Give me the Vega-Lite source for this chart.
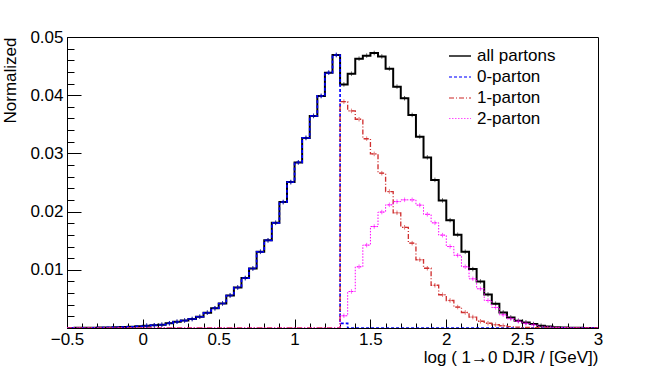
{
  "$schema": "https://vega.github.io/schema/vega-lite/v6.json",
  "width": 531,
  "height": 291,
  "autosize": {"type": "none"},
  "padding": {"left": 67, "top": 37, "right": 66, "bottom": 45},
  "background": "white",
  "config": {
    "view": {"stroke": "black", "strokeWidth": 1},
    "font": "Liberation Sans",
    "axis": {"grid": false, "domainColor": "black", "tickColor": "black", "labelColor": "black", "titleColor": "black", "labelFontSize": 17, "titleFontSize": 17, "titleFontWeight": "normal", "labelFlush": false, "labelOverlap": false, "labelBound": false, "domainWidth": 1, "tickWidth": 1}
  },
  "data": {"values": [
    {"x": -0.5, "all partons": 0.00002, "0-parton": 0.00002, "1-parton": 0, "2-parton": 0},
    {"x": -0.45, "all partons": 0.00003, "0-parton": 0.00003, "1-parton": 0, "2-parton": 0},
    {"x": -0.4, "all partons": 0.00004, "0-parton": 0.00004, "1-parton": 0, "2-parton": 0},
    {"x": -0.35, "all partons": 0.00005, "0-parton": 0.00005, "1-parton": 0, "2-parton": 0},
    {"x": -0.3, "all partons": 0.00007, "0-parton": 0.00007, "1-parton": 0, "2-parton": 0},
    {"x": -0.25, "all partons": 0.0001, "0-parton": 0.0001, "1-parton": 0, "2-parton": 0},
    {"x": -0.2, "all partons": 0.00013, "0-parton": 0.00013, "1-parton": 0, "2-parton": 0},
    {"x": -0.15, "all partons": 0.00017, "0-parton": 0.00017, "1-parton": 0, "2-parton": 0},
    {"x": -0.1, "all partons": 0.00022, "0-parton": 0.00022, "1-parton": 0, "2-parton": 0},
    {"x": -0.05, "all partons": 0.0003, "0-parton": 0.0003, "1-parton": 0, "2-parton": 0},
    {"x": 0.0, "all partons": 0.00039, "0-parton": 0.00039, "1-parton": 0, "2-parton": 0},
    {"x": 0.05, "all partons": 0.00047, "0-parton": 0.00047, "1-parton": 0, "2-parton": 0},
    {"x": 0.1, "all partons": 0.00056, "0-parton": 0.00056, "1-parton": 0, "2-parton": 0},
    {"x": 0.15, "all partons": 0.00082, "0-parton": 0.00082, "1-parton": 0, "2-parton": 0},
    {"x": 0.2, "all partons": 0.00107, "0-parton": 0.00107, "1-parton": 0, "2-parton": 0},
    {"x": 0.25, "all partons": 0.00128, "0-parton": 0.00128, "1-parton": 0, "2-parton": 0},
    {"x": 0.3, "all partons": 0.00154, "0-parton": 0.00154, "1-parton": 0, "2-parton": 0},
    {"x": 0.35, "all partons": 0.00193, "0-parton": 0.00193, "1-parton": 0, "2-parton": 0},
    {"x": 0.4, "all partons": 0.00262, "0-parton": 0.00262, "1-parton": 0, "2-parton": 0},
    {"x": 0.45, "all partons": 0.00339, "0-parton": 0.00339, "1-parton": 0, "2-parton": 0},
    {"x": 0.5, "all partons": 0.00421, "0-parton": 0.00421, "1-parton": 0, "2-parton": 0},
    {"x": 0.55, "all partons": 0.00559, "0-parton": 0.00559, "1-parton": 0, "2-parton": 0},
    {"x": 0.6, "all partons": 0.00696, "0-parton": 0.00696, "1-parton": 0, "2-parton": 0},
    {"x": 0.65, "all partons": 0.00858, "0-parton": 0.00858, "1-parton": 0, "2-parton": 0},
    {"x": 0.7, "all partons": 0.01022, "0-parton": 0.01022, "1-parton": 0, "2-parton": 0},
    {"x": 0.75, "all partons": 0.01309, "0-parton": 0.01309, "1-parton": 0, "2-parton": 0},
    {"x": 0.8, "all partons": 0.01506, "0-parton": 0.01506, "1-parton": 0, "2-parton": 0},
    {"x": 0.85, "all partons": 0.01807, "0-parton": 0.01807, "1-parton": 0, "2-parton": 0},
    {"x": 0.9, "all partons": 0.02164, "0-parton": 0.02164, "1-parton": 0, "2-parton": 0},
    {"x": 0.95, "all partons": 0.02507, "0-parton": 0.02507, "1-parton": 0, "2-parton": 0},
    {"x": 1.0, "all partons": 0.02845, "0-parton": 0.02845, "1-parton": 0, "2-parton": 0},
    {"x": 1.05, "all partons": 0.03266, "0-parton": 0.03266, "1-parton": 0, "2-parton": 0},
    {"x": 1.1, "all partons": 0.03644, "0-parton": 0.03644, "1-parton": 0, "2-parton": 0},
    {"x": 1.15, "all partons": 0.03987, "0-parton": 0.03987, "1-parton": 0, "2-parton": 0},
    {"x": 1.2, "all partons": 0.04387, "0-parton": 0.04387, "1-parton": 0, "2-parton": 0},
    {"x": 1.25, "all partons": 0.04691, "0-parton": 0.04691, "1-parton": 0, "2-parton": 0},
    {"x": 1.3, "all partons": 0.04185, "0-parton": 0.0008, "1-parton": 0.03889, "2-parton": 0.0021},
    {"x": 1.35, "all partons": 0.04368, "0-parton": 0, "1-parton": 0.0373, "2-parton": 0.00627},
    {"x": 1.4, "all partons": 0.04627, "0-parton": 0, "1-parton": 0.03587, "2-parton": 0.01052},
    {"x": 1.45, "all partons": 0.04679, "0-parton": 0, "1-parton": 0.03252, "2-parton": 0.01424},
    {"x": 1.5, "all partons": 0.04725, "0-parton": 0, "1-parton": 0.02991, "2-parton": 0.01743},
    {"x": 1.55, "all partons": 0.04665, "0-parton": 0, "1-parton": 0.0266, "2-parton": 0.01992},
    {"x": 1.6, "all partons": 0.04456, "0-parton": 0, "1-parton": 0.02344, "2-parton": 0.02116},
    {"x": 1.65, "all partons": 0.04147, "0-parton": 0, "1-parton": 0.01979, "2-parton": 0.02172},
    {"x": 1.7, "all partons": 0.03948, "0-parton": 0, "1-parton": 0.0173, "2-parton": 0.02202},
    {"x": 1.75, "all partons": 0.03661, "0-parton": 0, "1-parton": 0.01458, "2-parton": 0.02202},
    {"x": 1.8, "all partons": 0.03288, "0-parton": 0, "1-parton": 0.01172, "2-parton": 0.02111},
    {"x": 1.85, "all partons": 0.02931, "0-parton": 0, "1-parton": 0.01026, "2-parton": 0.01953},
    {"x": 1.9, "all partons": 0.02545, "0-parton": 0, "1-parton": 0.00734, "2-parton": 0.01807},
    {"x": 1.95, "all partons": 0.0219, "0-parton": 0, "1-parton": 0.00571, "2-parton": 0.01596},
    {"x": 2.0, "all partons": 0.01853, "0-parton": 0, "1-parton": 0.00473, "2-parton": 0.014},
    {"x": 2.05, "all partons": 0.01601, "0-parton": 0, "1-parton": 0.0036, "2-parton": 0.01249},
    {"x": 2.1, "all partons": 0.01309, "0-parton": 0, "1-parton": 0.00267, "2-parton": 0.01052},
    {"x": 2.15, "all partons": 0.01012, "0-parton": 0, "1-parton": 0.00188, "2-parton": 0.00845},
    {"x": 2.2, "all partons": 0.00799, "0-parton": 0, "1-parton": 0.00116, "2-parton": 0.00674},
    {"x": 2.25, "all partons": 0.00576, "0-parton": 0, "1-parton": 0.00082, "2-parton": 0.00473},
    {"x": 2.3, "all partons": 0.00416, "0-parton": 0, "1-parton": 0.00056, "2-parton": 0.00353},
    {"x": 2.35, "all partons": 0.00267, "0-parton": 0, "1-parton": 0.00039, "2-parton": 0.00227},
    {"x": 2.4, "all partons": 0.00181, "0-parton": 0, "1-parton": 0.00025, "2-parton": 0.00159},
    {"x": 2.45, "all partons": 0.00124, "0-parton": 0, "1-parton": 0.00015, "2-parton": 0.00116},
    {"x": 2.5, "all partons": 0.00095, "0-parton": 0, "1-parton": 0.0001, "2-parton": 0.0008},
    {"x": 2.55, "all partons": 0.00068, "0-parton": 0, "1-parton": 0.00006, "2-parton": 0.00055},
    {"x": 2.6, "all partons": 0.00039, "0-parton": 0, "1-parton": 0.00004, "2-parton": 0.0003},
    {"x": 2.65, "all partons": 0.00027, "0-parton": 0, "1-parton": 0.00002, "2-parton": 0.0002},
    {"x": 2.7, "all partons": 0.00015, "0-parton": 0, "1-parton": 0.00001, "2-parton": 0.00012},
    {"x": 2.75, "all partons": 0.0001, "0-parton": 0, "1-parton": 0, "2-parton": 0.00008},
    {"x": 2.8, "all partons": 0.00006, "0-parton": 0, "1-parton": 0, "2-parton": 0.00004},
    {"x": 2.85, "all partons": 0.00004, "0-parton": 0, "1-parton": 0, "2-parton": 0.00002},
    {"x": 2.9, "all partons": 0.00002, "0-parton": 0, "1-parton": 0, "2-parton": 0.00001},
    {"x": 2.95, "all partons": 0.00001, "0-parton": 0, "1-parton": 0, "2-parton": 0},
    {"x": 3.0, "all partons": 0.00001, "0-parton": 0, "1-parton": 0, "2-parton": 0}
  ]},
  "transform": [{"fold": ["all partons", "0-parton", "1-parton", "2-parton"], "as": ["series", "value"]}],
  "encoding": {
    "x": {
      "field": "x", "type": "quantitative",
      "scale": {"domain": [-0.5, 3], "nice": false, "zero": false},
      "axis": {
        "values": [-0.5, -0.4, -0.3, -0.2, -0.1, 0, 0.1, 0.2, 0.3, 0.4, 0.5, 0.6, 0.7, 0.8, 0.9, 1, 1.1, 1.2, 1.3, 1.4, 1.5, 1.6, 1.7, 1.8, 1.9, 2, 2.1, 2.2, 2.3, 2.4, 2.5, 2.6, 2.7, 2.8, 2.9, 3],
        "labelExpr": "abs(datum.value*2 - round(datum.value*2)) < 0.01 ? format(datum.value, '~g') : ''",
        "tickSize": {"condition": {"test": "abs(datum.value*2 - round(datum.value*2)) < 0.01", "value": -9}, "value": -5},
        "labelPadding": 12,
        "labelBaseline": "top",
        "title": "log ( 1→0 DJR / [GeV])",
        "titleAnchor": "end",
        "titleAlign": "right",
        "titleBaseline": "middle",
        "titleX": 531,
        "titleY": 29
      }
    },
    "y": {
      "field": "value", "type": "quantitative",
      "scale": {"domain": [0, 0.05], "nice": false},
      "axis": {
        "values": [0.002, 0.004, 0.006, 0.008, 0.01, 0.012, 0.014, 0.016, 0.018, 0.02, 0.022, 0.024, 0.026, 0.028, 0.03, 0.032, 0.034, 0.036, 0.038, 0.04, 0.042, 0.044, 0.046, 0.048, 0.05],
        "labelExpr": "abs(datum.value*100 - round(datum.value*100)) < 0.01 ? format(datum.value, '.2f') : ''",
        "tickSize": {"condition": {"test": "abs(datum.value*100 - round(datum.value*100)) < 0.01", "value": -14}, "value": -7},
        "labelPadding": 18,
        "title": "Normalized",
        "titleAngle": -90,
        "titleAnchor": "end",
        "titleAlign": "right",
        "titleBaseline": "middle",
        "titleX": -57,
        "titleY": 0
      }
    },
    "color": {
      "field": "series", "type": "nominal",
      "scale": {"domain": ["all partons", "0-parton", "1-parton", "2-parton"], "range": ["#000000", "#0000ff", "#d03030", "#ff00ff"]},
      "legend": {
        "orient": "none", "legendX": 381, "legendY": 7, "title": null,
        "symbolType": "stroke", "symbolSize": 484, "labelFontSize": 17, "labelColor": "black",
        "labelOffset": 5, "rowPadding": 1, "labelLimit": 200
      }
    },
    "strokeDash": {
      "field": "series", "type": "nominal",
      "scale": {"domain": ["all partons", "0-parton", "1-parton", "2-parton"], "range": [[1, 0], [3, 2], [5, 2, 1, 2], [1.5, 1.5]]}
    },
    "strokeWidth": {
      "field": "series", "type": "ordinal",
      "scale": {"domain": ["all partons", "0-parton", "1-parton", "2-parton"], "range": [2, 1, 1, 1.2]}
    }
  },
  "layer": [
    {"transform": [{"filter": "datum.series == 'all partons'"}], "mark": {"type": "line", "interpolate": "step-after", "clip": true}},
    {"transform": [{"filter": "datum.series == '0-parton'"}], "mark": {"type": "line", "interpolate": "step-after", "clip": true}},
    {"transform": [{"filter": "datum.series == '1-parton'"}], "mark": {"type": "line", "interpolate": "step-after", "clip": true}},
    {"transform": [{"filter": "datum.series == '2-parton'"}], "mark": {"type": "line", "interpolate": "step-after", "clip": true}},
    {"transform": [{"filter": "datum.value > 0.0003 && datum.x < 2.99 && !(datum.series == '0-parton' && datum.x > 1.27)"}], "mark": {"type": "point", "shape": "M-1,0H1M0,-1V1", "size": 20, "filled": false, "strokeDash": [1, 0], "xOffset": 3.8, "clip": true}, "encoding": {"strokeWidth": {"value": 1}, "strokeDash": {"value": [1, 0]}}}
  ]
}
